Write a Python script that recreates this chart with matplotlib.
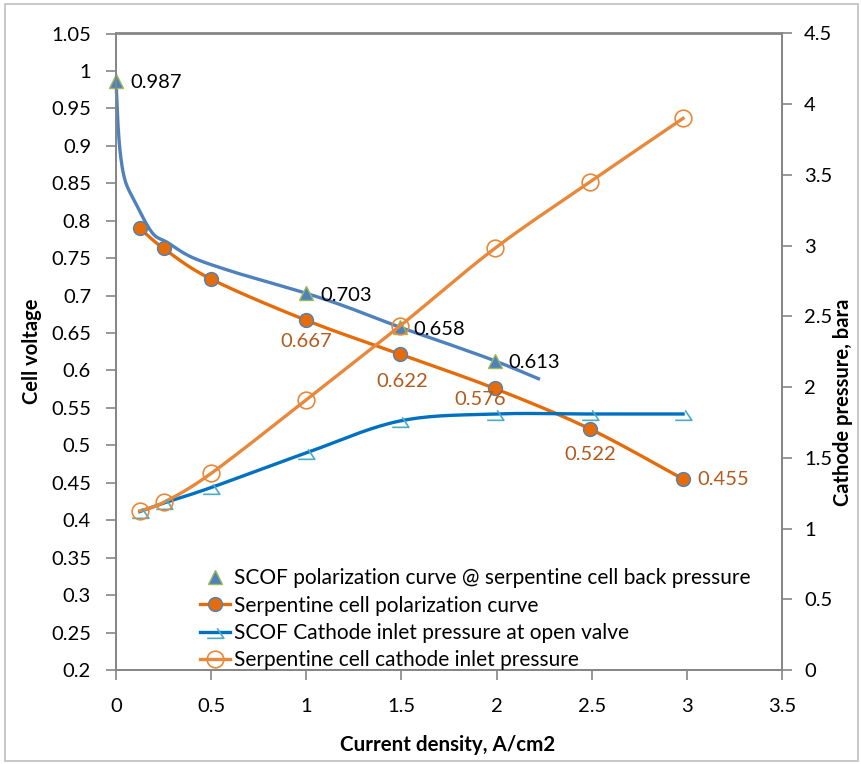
import numpy as np
import matplotlib
matplotlib.use("Agg")
import matplotlib.pyplot as plt
from matplotlib.path import Path
from matplotlib.patches import Rectangle

plt.rcParams['font.family'] = ['Lato', 'DejaVu Sans']

# current density, A/cm2
current = [0.125, 0.25, 0.5, 1.0, 1.49, 1.99, 2.49, 2.98]

# serpentine cell
serp_voltage = [0.790, 0.763, 0.722, 0.667, 0.622, 0.576, 0.522, 0.455]
serp_pressure = [1.125, 1.185, 1.39, 1.91, 2.43, 2.98, 3.45, 3.90]

# SCOF cell
scof_pressure = [1.12, 1.18, 1.29, 1.535, 1.76, 1.81, 1.81, 1.81]
scof_curve_x = [0, 0.01, 0.025, 0.05, 0.1, 0.19, 0.27, 0.4, 0.6, 0.8, 1.0, 1.2, 1.49, 1.75, 1.99, 2.22]
scof_curve_v = [0.987, 0.93, 0.885, 0.852, 0.825, 0.784, 0.771, 0.751, 0.733, 0.718, 0.703, 0.686, 0.658, 0.635, 0.613, 0.589]
scof_pts_x = [0, 1.0, 1.49, 1.99]
scof_pts_v = [0.987, 0.703, 0.658, 0.613]

labels = ["SCOF polarization curve @ serpentine cell back pressure",
          "Serpentine cell polarization curve",
          "SCOF Cathode inlet pressure at open valve",
          "Serpentine cell cathode inlet pressure"]

FS = 14.5


def smooth(x, y, n=20):
    # excel style bezier smoothing
    x = np.asarray(x, float)
    y = np.asarray(y, float)
    p = np.column_stack([x, y])
    out = [p[0]]
    for i in range(len(p) - 1):
        p0 = p[i - 1] if i > 0 else p[i]
        p3 = p[i + 2] if i + 2 < len(p) else p[i + 1]
        c1 = p[i] + (p[i + 1] - p0) / 6
        c2 = p[i + 1] - (p3 - p[i]) / 6
        t = np.linspace(0, 1, n)[1:, None]
        seg = ((1 - t) ** 3) * p[i] + 3 * ((1 - t) ** 2) * t * c1 + 3 * (1 - t) * t ** 2 * c2 + t ** 3 * p[i + 1]
        out.extend(seg)
    out = np.array(out)
    return out[:, 0], out[:, 1]


harpoon = Path([(-1.0, -0.7), (1.0, -0.7), (0.2, 0.5)],
               [Path.MOVETO, Path.LINETO, Path.LINETO])

fig = plt.figure(figsize=(8.61, 7.64), dpi=100)
ax = fig.add_axes([116 / 861, 1 - 670 / 764, (782 - 116) / 861, (670 - 33.5) / 764])
ax2 = ax.twinx()

blue = '#4F81BD'
orange = '#E46C0A'
orange2 = '#E8883A'
lab_orange = '#B35A1C'

# SCOF polarization curve (line only) and its measured points
sx, sy = smooth(scof_curve_x, scof_curve_v)
ax.plot(sx, sy, color=blue, lw=2.4, zorder=3, clip_on=False)
h1, = ax.plot(scof_pts_x, scof_pts_v, ls='none', marker='^', ms=10,
              mfc=blue, mec='#9BBB59', mew=1, zorder=4, clip_on=False)

px, py = smooth(current, serp_voltage)
ax.plot(px, py, color=orange, lw=2.4, zorder=3)
ax.plot(current, serp_voltage, ls='none', marker='o', ms=10, mfc=orange, mec=blue, mew=1, zorder=4)
h2, = ax.plot([], [], color=orange, lw=2.4, marker='o', ms=10, mfc=orange, mec=blue, mew=1)

qx, qy = smooth(current, scof_pressure)
ax2.plot(qx, qy, color='#0070C0', lw=2.4, zorder=3)
ax2.plot(current, scof_pressure, ls='none', marker=harpoon, ms=12, mfc='none', mec='#4BACC6', mew=1.2, zorder=4)
h3, = ax2.plot([], [], color='#0070C0', lw=2.4, marker=harpoon, ms=12, mfc='none', mec='#4BACC6', mew=1.2)

rx, ry = smooth(current, serp_pressure)
ax2.plot(rx, ry, color=orange2, lw=2.4, zorder=3)
ax2.plot(current, serp_pressure, ls='none', marker='o', ms=12, mfc='none', mec=orange2, mew=1.2, zorder=4)
h4, = ax2.plot([], [], color=orange2, lw=2.4, marker='o', ms=12, mfc='none', mec=orange2, mew=1.2)

# data labels
for x, v in zip(scof_pts_x, scof_pts_v):
    ax.annotate(f"{v:.3f}", (x, v), xytext=(14, -2), textcoords='offset pixels',
                ha='left', va='center', fontsize=FS, color='black', zorder=5)

serp_offsets = [None, None, None, (0, -21), (3, -28), (-14, -11), (0, -26), (14, 0)]
for x, v, off in zip(current, serp_voltage, serp_offsets):
    if off is None:
        continue
    ha = 'left' if off[0] > 10 else 'center'
    ax.annotate(f"{v:.3f}", (x, v), xytext=off, textcoords='offset pixels',
                ha=ha, va='center', fontsize=FS, color=lab_orange, zorder=5)

ax.set_xlim(0, 3.5)
ax.set_ylim(0.2, 1.05)
ax2.set_ylim(0, 4.5)
ax.set_xticks(np.arange(0, 3.51, 0.5))
ax.set_xticklabels(['0', '0.5', '1', '1.5', '2', '2.5', '3', '3.5'])
yt = np.arange(0.2, 1.051, 0.05)
ax.set_yticks(yt)
ax.set_yticklabels([f"{t:.2f}".rstrip('0').rstrip('.') for t in yt])
rt = np.arange(0, 4.51, 0.5)
ax2.set_yticks(rt)
ax2.set_yticklabels([f"{t:g}" for t in rt])

for a in (ax, ax2):
    for s in a.spines.values():
        s.set_color('#868686')
        s.set_linewidth(1.3)
ax.tick_params(axis='x', direction='out', length=7, width=1.2, color='#868686', labelsize=FS, pad=13)
ax.tick_params(axis='y', direction='out', length=7, width=1.2, color='#868686', labelsize=FS, pad=11)
ax2.tick_params(axis='y', direction='out', length=7, width=1.2, color='#868686', labelsize=FS, pad=9)

fig.text(448 / 861, 1 - 745 / 764, "Current density, A/cm2", ha='center', va='center',
         fontsize=14.8, fontweight='bold')
fig.text(32 / 861, 1 - 351 / 764, "Cell voltage", ha='center', va='center', rotation=90,
         fontsize=14.5, fontweight='bold')
fig.text(843 / 861, 1 - 402 / 764, "Cathode pressure, bara", ha='center', va='center', rotation=90,
         fontsize=14.5, fontweight='bold')

ax2.legend([h1, h2, h3, h4], labels, loc='upper left', bbox_to_anchor=(200 / 861, 1 - 568 / 764),
           bbox_transform=fig.transFigure, frameon=False, fontsize=15, handlelength=1.45,
           handletextpad=0.2, labelspacing=0.36, borderpad=0, borderaxespad=0)

fig.patches.append(Rectangle((5 / 861, 3 / 764), 853 / 861, 757 / 764, transform=fig.transFigure,
                             fill=False, edgecolor='#BFBFBF', lw=1.2))

fig.savefig("out.png", dpi=100)
